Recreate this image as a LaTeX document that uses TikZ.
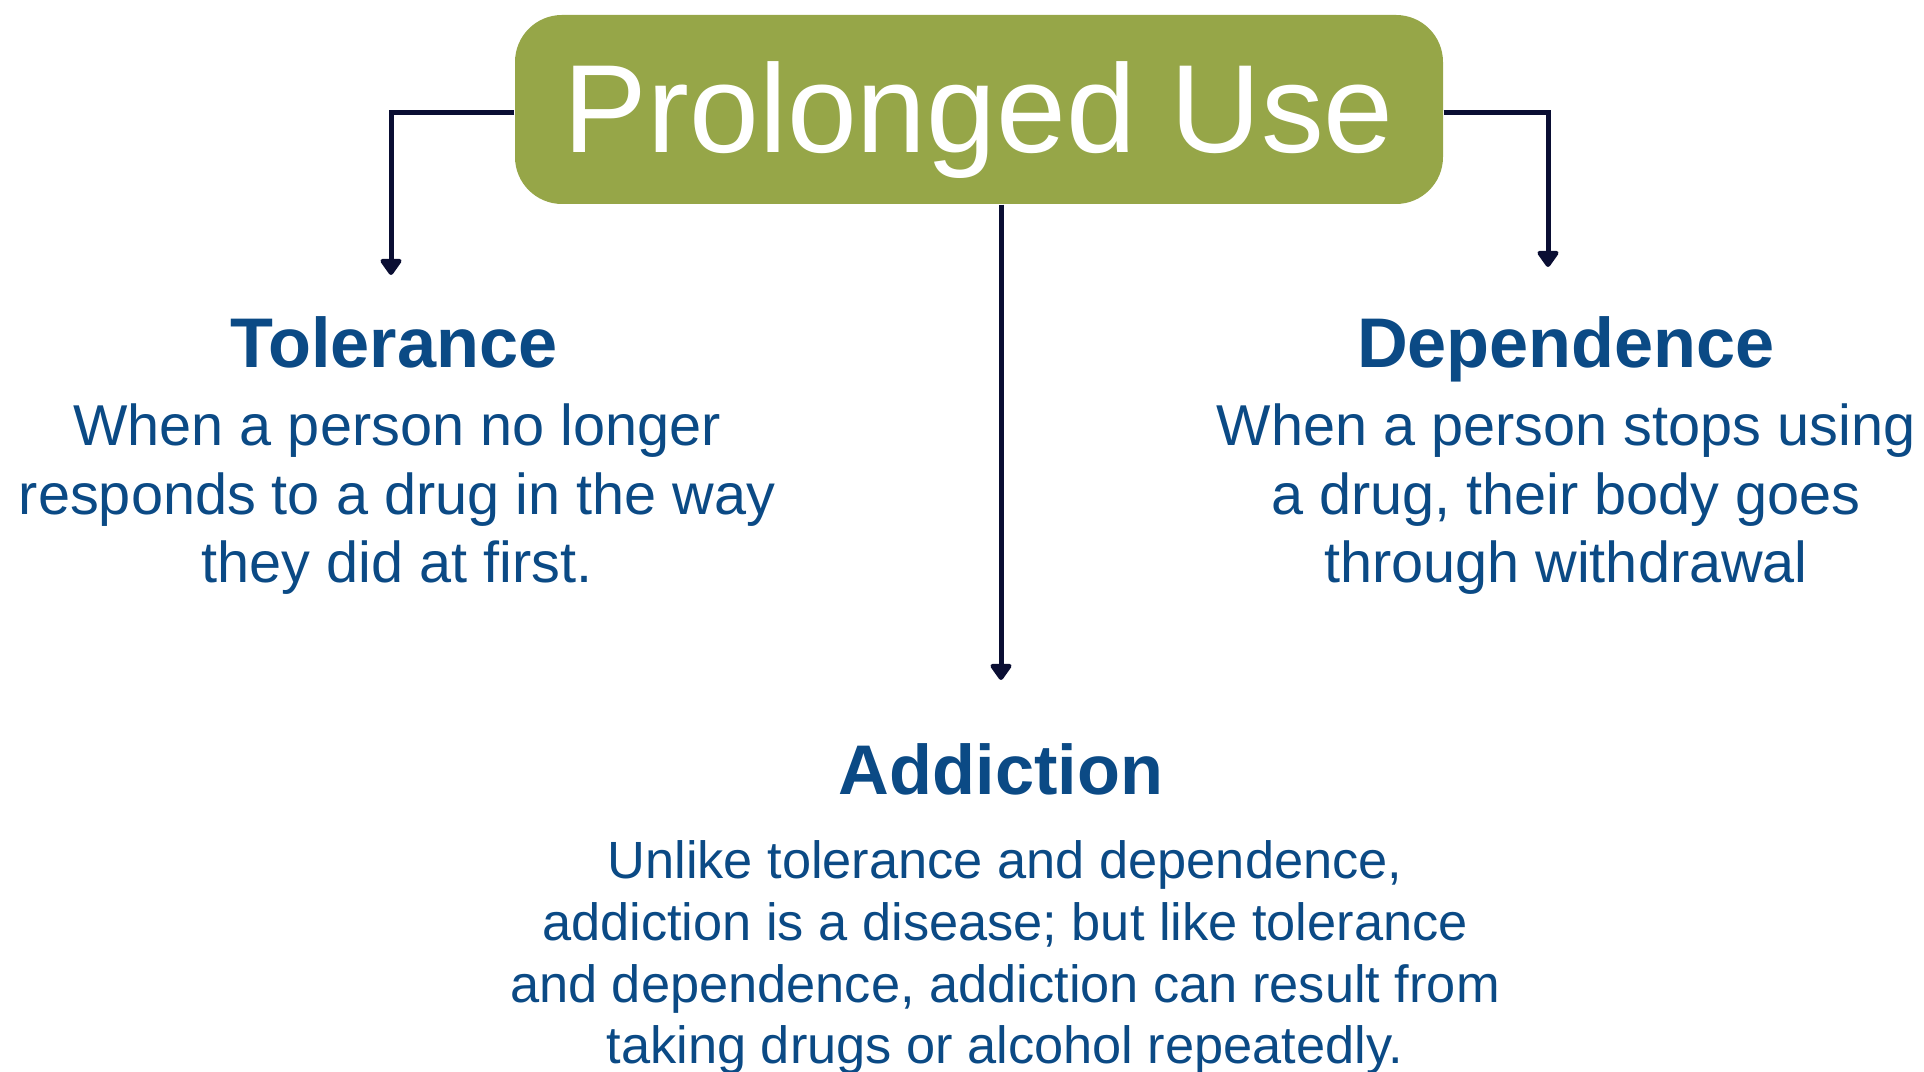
\documentclass[tikz,border=0pt]{standalone}
\usepackage{fontspec}
\setmainfont{Liberation Sans}
\usetikzlibrary{arrows.meta,positioning}
\definecolor{usegreen}{HTML}{96A648}
\definecolor{textblue}{HTML}{0B4A85}
\definecolor{linenavy}{HTML}{0A0E33}

\begin{document}
\begin{tikzpicture}[
    head/.style={font=\fontsize{20}{23}\selectfont\bfseries,text=textblue,anchor=base,inner sep=0pt},
    body/.style={font=\fontsize{16.4}{19.6}\selectfont,text=textblue,align=center,anchor=base,inner sep=0pt},
    link/.style={draw=linenavy,line width=0.05cm,-{Triangle[width=0.24cm,length=0.18cm,round]}}
  ]
  \useasboundingbox (0,0) rectangle (19.24,-10.72);

  \node[fill=usegreen,rounded corners=0.47cm,minimum width=9.28cm,minimum height=1.89cm,inner sep=0pt,
        text=white,text height=0.86cm,text depth=0pt,font=\fontsize{35.7}{40}\selectfont](use) at (9.79,-1.095) {Prolonged Use};

  \coordinate (tolEnd) at (3.91,-2.75);
  \coordinate (depEnd) at (15.48,-2.67);
  \coordinate (addEnd) at (10.01,-6.80);

  \draw[link] ([yshift=-0.035cm]use.west) -| (tolEnd);
  \draw[link] ([yshift=-0.035cm]use.east) -| (depEnd);
  \draw[link] (use.south -| addEnd) -- (addEnd);

  % base of a body node = its last line
  \node[head] (tol) at (3.94,-3.68) {Tolerance};
  \node[body] (toltxt) at (3.97,-5.83) {When a person no longer\\responds to a drug in the way\\they did at first.};

  \node[head] (dep) at (15.66,-3.68) {Dependence};
  \node[body] (deptxt) at (15.66,-5.83) {When a person stops using\\a drug, their body goes\\through withdrawal};

  \node[head] (add) at (10.01,-7.95) {Addiction};
  \node[body,font=\fontsize{14.9}{17.6}\selectfont] (addtxt) at (10.05,-10.64) {Unlike tolerance and dependence,\\addiction is a disease; but like tolerance\\and dependence, addiction can result from\\taking drugs or alcohol repeatedly.};
\end{tikzpicture}
\end{document}
